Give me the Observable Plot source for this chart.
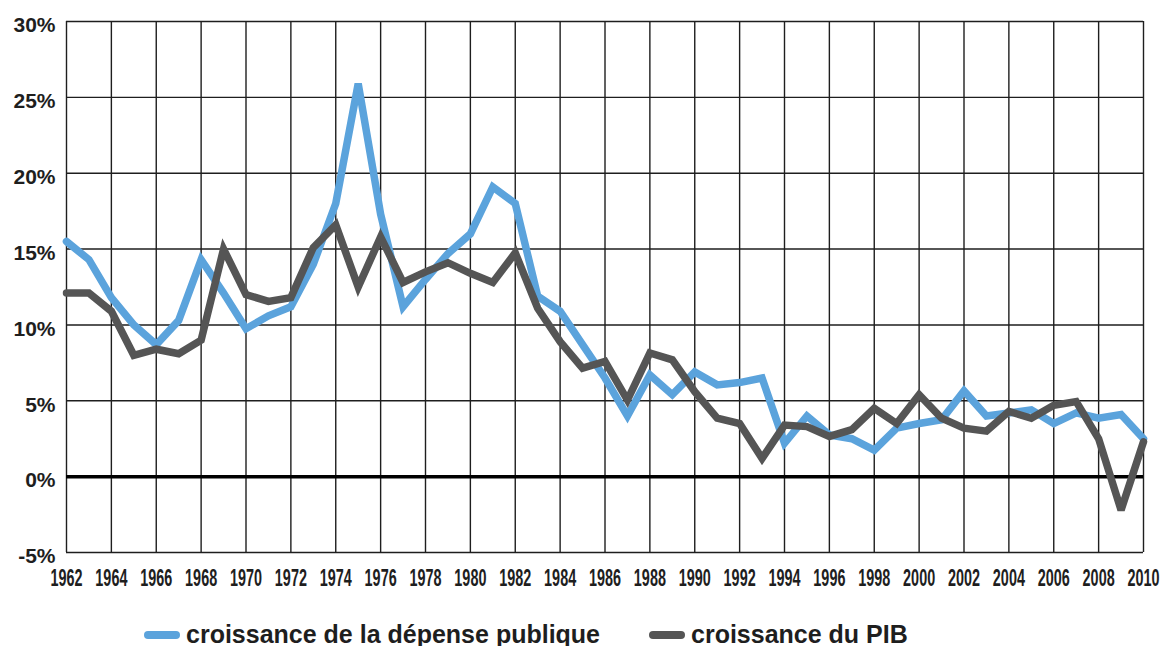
<!DOCTYPE html>
<html>
<head>
<meta charset="utf-8">
<script src="https://cdn.jsdelivr.net/npm/d3@7"></script>
<script src="https://cdn.jsdelivr.net/npm/@observablehq/plot@0.6"></script>
<style>
  html, body { margin: 0; padding: 0; background: #fff; }
  #wrap { position: relative; width: 1161px; height: 646px; }
  .legend { position: absolute; top: 611px; left: 0; width: 1161px; height: 46px; font-family: "Liberation Sans", Arial, sans-serif; font-weight: bold; font-size: 25px; color: #1e1e1e; }
  .item { position: absolute; top: 0; height: 46px; display: flex; align-items: center; }
  .sw { width: 36px; height: 8px; border-radius: 4px; margin-right: 6px; margin-top: 2px; }
</style>
</head>
<body>
<div id="wrap">
  <div id="chart"></div>
  <div class="legend">
    <div class="item" style="left:144px"><span class="sw" style="background:#5ba3dc"></span><span id="l1"></span></div>
    <div class="item" style="left:649px"><span class="sw" style="background:#555555"></span><span id="l2"></span></div>
  </div>
</div>
<script>
const years = d3.range(1962, 2011);
const depensePublique = [15.5, 14.3, 11.8, 10.0, 8.7, 10.3, 14.3, 12.1, 9.75, 10.6,
  11.2, 14.0, 18.0, 25.9, 17.3, 11.2, 13.0, 14.7, 16.0, 19.1,
  18.0, 11.9, 10.9, 8.7, 6.5, 4.0, 6.7, 5.4, 6.9, 6.05,
  6.2, 6.5, 2.2, 4.0, 2.75, 2.5, 1.75, 3.2, 3.5, 3.75,
  5.65, 4.0, 4.2, 4.4, 3.5, 4.2, 3.85, 4.1, 2.5];
const pib = [12.1, 12.1, 10.9, 8.0, 8.4, 8.1, 9.0, 15.0, 12.0, 11.55,
  11.8, 15.1, 16.6, 12.5, 15.8, 12.8, 13.5, 14.1, 13.4, 12.8,
  14.75, 11.1, 8.9, 7.15, 7.6, 5.05, 8.15, 7.7, 5.6, 3.85,
  3.5, 1.2, 3.4, 3.3, 2.65, 3.1, 4.5, 3.5, 5.4, 3.85,
  3.2, 3.0, 4.3, 3.85, 4.7, 4.95, 2.5, -2.2, 2.3];
const seriesNames = ["croissance de la dépense publique", "croissance du PIB"];
const seriesColors = ["#5ba3dc", "#555555"];
const xTicks = d3.range(1962, 2011, 2);
const yTicks = [-5, 0, 5, 10, 15, 20, 25, 30];

const rows = [];
years.forEach((y, i) => {
  rows.push({year: y, value: depensePublique[i], series: seriesNames[0]});
  rows.push({year: y, value: pib[i], series: seriesNames[1]});
});

const chart = Plot.plot({
  width: 1161,
  height: 600,
  marginTop: 21,
  marginBottom: 48,
  marginLeft: 66,
  marginRight: 18,
  style: {background: "#fff"},
  x: {domain: [1962, 2010], axis: null, label: null},
  y: {domain: [-5, 30], axis: null, label: null},
  color: {domain: seriesNames, range: seriesColors},
  marks: [
    Plot.gridX(xTicks, {stroke: "#1e1e1e", strokeOpacity: 1, strokeWidth: 1.4}),
    Plot.gridY(yTicks, {stroke: "#1e1e1e", strokeOpacity: 1, strokeWidth: 1.4}),
    Plot.ruleY([0], {stroke: "#000", strokeWidth: 3.5}),
    Plot.axisY(yTicks, {label: null, tickSize: 0, tickPadding: 11, tickFormat: d => d + "%", fontSize: 21, fontWeight: "bold", fontFamily: "Liberation Sans, Arial, sans-serif", fill: "#1e1e1e", dy: 4}),
    Plot.axisX(xTicks, {label: null, tickSize: 0, tickPadding: 16, tickFormat: d => String(d), fontSize: 24, fontWeight: "bold", fontFamily: "Liberation Sans, Arial, sans-serif", fill: "#1e1e1e"}),
    Plot.line(rows, {x: "year", y: "value", stroke: "series", z: "series", strokeWidth: 7.5, strokeLinejoin: "miter", strokeMiterlimit: 3})
  ]
});
document.getElementById("chart").appendChild(chart);
document.getElementById("l1").textContent = seriesNames[0];
document.getElementById("l2").textContent = seriesNames[1];

// condense the year tick labels horizontally (keep their own positions)
chart.querySelectorAll("text").forEach(t => {
  if (!/^\d{4}$/.test(t.textContent.trim())) return;
  const tr = t.getAttribute("transform");
  if (tr) {
    t.setAttribute("transform", tr + " scale(0.6,1)");
  } else {
    const x = parseFloat(t.getAttribute("x") || "0");
    t.removeAttribute("x");
    t.setAttribute("transform", `translate(${x},0) scale(0.6,1)`);
  }
});
</script>
</body>
</html>
